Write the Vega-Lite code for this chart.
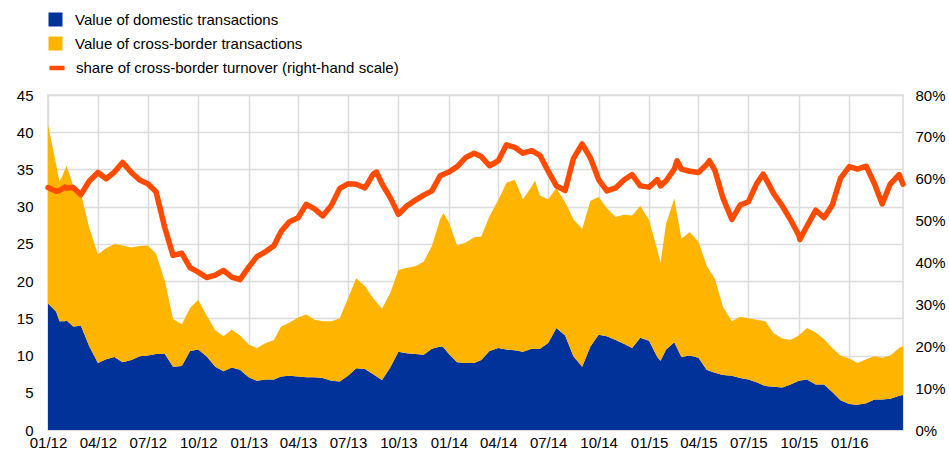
{
  "$schema": "https://vega.github.io/schema/vega-lite/v6.json",
  "width": 855,
  "height": 335,
  "autosize": {"type": "none"},
  "padding": {"left": 48, "top": 95, "right": 46, "bottom": 27},
  "background": "white",
  "config": {
    "font": "Liberation Sans",
    "view": {"stroke": "#dcdcdc", "strokeWidth": 1.5},
    "axis": {"labelFont": "Liberation Sans", "labelFontSize": 15, "labelColor": "#000", "domain": false, "ticks": false, "gridColor": "#dcdcdc", "gridWidth": 1.5, "labelFlush": false, "labelOverlap": false, "labelBound": false},
    "legend": {"labelFont": "Liberation Sans", "labelFontSize": 15, "labelColor": "#000", "labelLimit": 0, "padding": 0, "rowPadding": 8, "labelOffset": 12, "orient": "none", "direction": "vertical", "title": null}
  },
  "datasets": {
    "volumes": [
      {"date": "2012-01-01", "domestic": 17.0, "crossborder": 24.0},
      {"date": "2012-01-16", "domestic": 15.9, "crossborder": 19.7},
      {"date": "2012-01-22", "domestic": 14.6, "crossborder": 18.7},
      {"date": "2012-02-01", "domestic": 14.6, "crossborder": 20.4},
      {"date": "2012-02-04", "domestic": 14.7, "crossborder": 20.8},
      {"date": "2012-02-16", "domestic": 13.9, "crossborder": 18.9},
      {"date": "2012-03-01", "domestic": 14.0, "crossborder": 17.8},
      {"date": "2012-03-16", "domestic": 11.3, "crossborder": 15.9},
      {"date": "2012-04-01", "domestic": 9.0, "crossborder": 14.6},
      {"date": "2012-04-16", "domestic": 9.5, "crossborder": 14.9},
      {"date": "2012-05-01", "domestic": 9.8, "crossborder": 15.2},
      {"date": "2012-05-16", "domestic": 9.1, "crossborder": 15.7},
      {"date": "2012-06-01", "domestic": 9.4, "crossborder": 15.1},
      {"date": "2012-06-16", "domestic": 9.9, "crossborder": 14.8},
      {"date": "2012-07-01", "domestic": 10.0, "crossborder": 14.8},
      {"date": "2012-07-16", "domestic": 10.2, "crossborder": 13.5},
      {"date": "2012-08-01", "domestic": 10.2, "crossborder": 9.8},
      {"date": "2012-08-16", "domestic": 8.5, "crossborder": 6.4},
      {"date": "2012-09-01", "domestic": 8.6, "crossborder": 5.6},
      {"date": "2012-09-16", "domestic": 10.6, "crossborder": 5.8},
      {"date": "2012-10-01", "domestic": 10.8, "crossborder": 6.7},
      {"date": "2012-10-16", "domestic": 9.9, "crossborder": 5.5},
      {"date": "2012-11-01", "domestic": 8.5, "crossborder": 4.9},
      {"date": "2012-11-16", "domestic": 7.9, "crossborder": 4.7},
      {"date": "2012-12-01", "domestic": 8.4, "crossborder": 5.1},
      {"date": "2012-12-16", "domestic": 8.1, "crossborder": 4.6},
      {"date": "2013-01-01", "domestic": 7.1, "crossborder": 4.4},
      {"date": "2013-01-16", "domestic": 6.6, "crossborder": 4.4},
      {"date": "2013-02-01", "domestic": 6.8, "crossborder": 4.9},
      {"date": "2013-02-16", "domestic": 6.8, "crossborder": 5.3},
      {"date": "2013-03-01", "domestic": 7.2, "crossborder": 6.7},
      {"date": "2013-03-16", "domestic": 7.3, "crossborder": 7.1},
      {"date": "2013-04-01", "domestic": 7.2, "crossborder": 7.9},
      {"date": "2013-04-16", "domestic": 7.1, "crossborder": 8.4},
      {"date": "2013-05-01", "domestic": 7.1, "crossborder": 7.7},
      {"date": "2013-05-16", "domestic": 7.0, "crossborder": 7.6},
      {"date": "2013-06-01", "domestic": 6.6, "crossborder": 8.0},
      {"date": "2013-06-16", "domestic": 6.5, "crossborder": 8.5},
      {"date": "2013-07-01", "domestic": 7.3, "crossborder": 10.4},
      {"date": "2013-07-16", "domestic": 8.3, "crossborder": 12.1},
      {"date": "2013-08-01", "domestic": 8.2, "crossborder": 11.1},
      {"date": "2013-08-16", "domestic": 7.5, "crossborder": 10.2},
      {"date": "2013-09-01", "domestic": 6.7, "crossborder": 9.6},
      {"date": "2013-09-16", "domestic": 8.4, "crossborder": 10.0},
      {"date": "2013-10-01", "domestic": 10.5, "crossborder": 11.0},
      {"date": "2013-10-16", "domestic": 10.3, "crossborder": 11.5},
      {"date": "2013-11-01", "domestic": 10.2, "crossborder": 11.8},
      {"date": "2013-11-16", "domestic": 10.1, "crossborder": 12.5},
      {"date": "2013-12-01", "domestic": 10.9, "crossborder": 13.8},
      {"date": "2013-12-16", "domestic": 11.2, "crossborder": 17.1},
      {"date": "2013-12-22", "domestic": 11.1, "crossborder": 18.0},
      {"date": "2014-01-01", "domestic": 10.2, "crossborder": 17.7},
      {"date": "2014-01-16", "domestic": 9.1, "crossborder": 15.7},
      {"date": "2014-02-01", "domestic": 9.0, "crossborder": 16.2},
      {"date": "2014-02-16", "domestic": 9.0, "crossborder": 16.9},
      {"date": "2014-03-01", "domestic": 9.4, "crossborder": 16.6},
      {"date": "2014-03-16", "domestic": 10.6, "crossborder": 18.1},
      {"date": "2014-04-01", "domestic": 11.0, "crossborder": 19.9},
      {"date": "2014-04-16", "domestic": 10.8, "crossborder": 22.4},
      {"date": "2014-05-01", "domestic": 10.7, "crossborder": 22.9},
      {"date": "2014-05-16", "domestic": 10.5, "crossborder": 20.5},
      {"date": "2014-06-01", "domestic": 10.9, "crossborder": 21.8},
      {"date": "2014-06-07", "domestic": 10.9, "crossborder": 22.6},
      {"date": "2014-06-16", "domestic": 10.9, "crossborder": 20.6},
      {"date": "2014-07-01", "domestic": 11.7, "crossborder": 19.3},
      {"date": "2014-07-16", "domestic": 13.7, "crossborder": 18.8},
      {"date": "2014-08-01", "domestic": 12.7, "crossborder": 17.9},
      {"date": "2014-08-16", "domestic": 9.9, "crossborder": 18.4},
      {"date": "2014-09-01", "domestic": 8.5, "crossborder": 18.5},
      {"date": "2014-09-16", "domestic": 11.2, "crossborder": 19.6},
      {"date": "2014-10-01", "domestic": 12.8, "crossborder": 18.5},
      {"date": "2014-10-16", "domestic": 12.6, "crossborder": 17.2},
      {"date": "2014-11-01", "domestic": 12.1, "crossborder": 16.5},
      {"date": "2014-11-16", "domestic": 11.6, "crossborder": 17.3},
      {"date": "2014-12-01", "domestic": 11.0, "crossborder": 17.8},
      {"date": "2014-12-16", "domestic": 12.4, "crossborder": 17.7},
      {"date": "2015-01-01", "domestic": 12.0, "crossborder": 16.2},
      {"date": "2015-01-16", "domestic": 9.8, "crossborder": 14.4},
      {"date": "2015-01-22", "domestic": 9.3, "crossborder": 13.2},
      {"date": "2015-02-01", "domestic": 10.8, "crossborder": 16.9},
      {"date": "2015-02-16", "domestic": 11.8, "crossborder": 19.3},
      {"date": "2015-03-01", "domestic": 9.8, "crossborder": 15.9},
      {"date": "2015-03-16", "domestic": 10.0, "crossborder": 16.6},
      {"date": "2015-04-01", "domestic": 9.7, "crossborder": 15.6},
      {"date": "2015-04-16", "domestic": 8.1, "crossborder": 14.0},
      {"date": "2015-05-01", "domestic": 7.7, "crossborder": 12.6},
      {"date": "2015-05-16", "domestic": 7.4, "crossborder": 9.1},
      {"date": "2015-06-01", "domestic": 7.3, "crossborder": 7.3},
      {"date": "2015-06-16", "domestic": 7.0, "crossborder": 8.2},
      {"date": "2015-07-01", "domestic": 6.8, "crossborder": 8.2},
      {"date": "2015-07-16", "domestic": 6.4, "crossborder": 8.4},
      {"date": "2015-08-01", "domestic": 5.9, "crossborder": 8.7},
      {"date": "2015-08-16", "domestic": 5.8, "crossborder": 7.2},
      {"date": "2015-09-01", "domestic": 5.7, "crossborder": 6.6},
      {"date": "2015-09-16", "domestic": 6.1, "crossborder": 6.0},
      {"date": "2015-10-01", "domestic": 6.6, "crossborder": 6.1},
      {"date": "2015-10-16", "domestic": 6.8, "crossborder": 6.9},
      {"date": "2015-11-01", "domestic": 6.1, "crossborder": 7.0},
      {"date": "2015-11-16", "domestic": 6.1, "crossborder": 6.1},
      {"date": "2015-12-01", "domestic": 5.1, "crossborder": 5.9},
      {"date": "2015-12-16", "domestic": 4.0, "crossborder": 6.0},
      {"date": "2016-01-01", "domestic": 3.5, "crossborder": 6.1},
      {"date": "2016-01-16", "domestic": 3.4, "crossborder": 5.6},
      {"date": "2016-02-01", "domestic": 3.6, "crossborder": 5.9},
      {"date": "2016-02-16", "domestic": 4.1, "crossborder": 5.8},
      {"date": "2016-03-01", "domestic": 4.1, "crossborder": 5.6},
      {"date": "2016-03-16", "domestic": 4.2, "crossborder": 5.8},
      {"date": "2016-04-01", "domestic": 4.6, "crossborder": 6.4},
      {"date": "2016-04-08", "domestic": 4.7, "crossborder": 6.6}
    ],
    "share": [
      {"date": "2012-01-01", "share": 0.579},
      {"date": "2012-01-16", "share": 0.570},
      {"date": "2012-01-22", "share": 0.572},
      {"date": "2012-02-01", "share": 0.580},
      {"date": "2012-02-04", "share": 0.578},
      {"date": "2012-02-16", "share": 0.579},
      {"date": "2012-03-01", "share": 0.562},
      {"date": "2012-03-16", "share": 0.594},
      {"date": "2012-04-01", "share": 0.615},
      {"date": "2012-04-16", "share": 0.600},
      {"date": "2012-05-01", "share": 0.616},
      {"date": "2012-05-16", "share": 0.639},
      {"date": "2012-06-01", "share": 0.615},
      {"date": "2012-06-16", "share": 0.597},
      {"date": "2012-07-01", "share": 0.588},
      {"date": "2012-07-16", "share": 0.569},
      {"date": "2012-08-01", "share": 0.483},
      {"date": "2012-08-16", "share": 0.417},
      {"date": "2012-09-01", "share": 0.422},
      {"date": "2012-09-16", "share": 0.388},
      {"date": "2012-10-01", "share": 0.377},
      {"date": "2012-10-16", "share": 0.364},
      {"date": "2012-11-01", "share": 0.370},
      {"date": "2012-11-16", "share": 0.381},
      {"date": "2012-12-01", "share": 0.365},
      {"date": "2012-12-16", "share": 0.359},
      {"date": "2013-01-01", "share": 0.389},
      {"date": "2013-01-16", "share": 0.414},
      {"date": "2013-02-01", "share": 0.426},
      {"date": "2013-02-16", "share": 0.440},
      {"date": "2013-03-01", "share": 0.474},
      {"date": "2013-03-16", "share": 0.497},
      {"date": "2013-04-01", "share": 0.507},
      {"date": "2013-04-16", "share": 0.539},
      {"date": "2013-05-01", "share": 0.528},
      {"date": "2013-05-16", "share": 0.511},
      {"date": "2013-06-01", "share": 0.537},
      {"date": "2013-06-16", "share": 0.577},
      {"date": "2013-07-01", "share": 0.588},
      {"date": "2013-07-16", "share": 0.587},
      {"date": "2013-08-01", "share": 0.578},
      {"date": "2013-08-16", "share": 0.611},
      {"date": "2013-08-22", "share": 0.616},
      {"date": "2013-09-01", "share": 0.588},
      {"date": "2013-09-16", "share": 0.555},
      {"date": "2013-10-01", "share": 0.515},
      {"date": "2013-10-16", "share": 0.535},
      {"date": "2013-11-01", "share": 0.549},
      {"date": "2013-11-16", "share": 0.561},
      {"date": "2013-12-01", "share": 0.571},
      {"date": "2013-12-16", "share": 0.607},
      {"date": "2014-01-01", "share": 0.616},
      {"date": "2014-01-16", "share": 0.629},
      {"date": "2014-02-01", "share": 0.651},
      {"date": "2014-02-16", "share": 0.661},
      {"date": "2014-03-01", "share": 0.653},
      {"date": "2014-03-16", "share": 0.631},
      {"date": "2014-04-01", "share": 0.643},
      {"date": "2014-04-16", "share": 0.681},
      {"date": "2014-05-01", "share": 0.675},
      {"date": "2014-05-16", "share": 0.661},
      {"date": "2014-06-01", "share": 0.667},
      {"date": "2014-06-16", "share": 0.656},
      {"date": "2014-07-01", "share": 0.618},
      {"date": "2014-07-16", "share": 0.583},
      {"date": "2014-08-01", "share": 0.572},
      {"date": "2014-08-16", "share": 0.648},
      {"date": "2014-09-01", "share": 0.683},
      {"date": "2014-09-16", "share": 0.650},
      {"date": "2014-10-01", "share": 0.598},
      {"date": "2014-10-16", "share": 0.571},
      {"date": "2014-11-01", "share": 0.578},
      {"date": "2014-11-16", "share": 0.597},
      {"date": "2014-12-01", "share": 0.610},
      {"date": "2014-12-16", "share": 0.583},
      {"date": "2015-01-01", "share": 0.580},
      {"date": "2015-01-16", "share": 0.598},
      {"date": "2015-01-22", "share": 0.583},
      {"date": "2015-02-01", "share": 0.595},
      {"date": "2015-02-16", "share": 0.623},
      {"date": "2015-02-21", "share": 0.643},
      {"date": "2015-03-01", "share": 0.623},
      {"date": "2015-03-16", "share": 0.618},
      {"date": "2015-04-01", "share": 0.615},
      {"date": "2015-04-16", "share": 0.634},
      {"date": "2015-04-21", "share": 0.643},
      {"date": "2015-05-01", "share": 0.620},
      {"date": "2015-05-16", "share": 0.553},
      {"date": "2015-06-01", "share": 0.503},
      {"date": "2015-06-16", "share": 0.537},
      {"date": "2015-07-01", "share": 0.545},
      {"date": "2015-07-16", "share": 0.588},
      {"date": "2015-07-28", "share": 0.611},
      {"date": "2015-08-01", "share": 0.602},
      {"date": "2015-08-16", "share": 0.565},
      {"date": "2015-09-01", "share": 0.535},
      {"date": "2015-09-16", "share": 0.502},
      {"date": "2015-10-01", "share": 0.465},
      {"date": "2015-10-03", "share": 0.455},
      {"date": "2015-10-16", "share": 0.487},
      {"date": "2015-11-01", "share": 0.525},
      {"date": "2015-11-16", "share": 0.507},
      {"date": "2015-12-01", "share": 0.537},
      {"date": "2015-12-16", "share": 0.601},
      {"date": "2016-01-01", "share": 0.629},
      {"date": "2016-01-16", "share": 0.623},
      {"date": "2016-02-01", "share": 0.630},
      {"date": "2016-02-16", "share": 0.588},
      {"date": "2016-03-01", "share": 0.540},
      {"date": "2016-03-16", "share": 0.588},
      {"date": "2016-04-01", "share": 0.610},
      {"date": "2016-04-08", "share": 0.587}
    ]
  },
  "layer": [
    {
      "data": {"name": "volumes"},
      "transform": [{"fold": ["domestic", "crossborder"], "as": ["series", "value"]}],
      "mark": {"type": "area", "opacity": 1, "interpolate": "linear"},
      "encoding": {
        "x": {
          "field": "date", "type": "temporal",
          "scale": {"type": "utc", "domain": [{"year": 2012, "month": 1, "date": 1, "utc": true}, {"year": 2016, "month": 4, "date": 8, "utc": true}]},
          "axis": {
            "title": null, "format": "%m/%y", "labelPadding": 5, "grid": true,
            "values": [
              {"year": 2012, "month": 1, "date": 1, "utc": true}, {"year": 2012, "month": 4, "date": 1, "utc": true}, {"year": 2012, "month": 7, "date": 1, "utc": true}, {"year": 2012, "month": 10, "date": 1, "utc": true},
              {"year": 2013, "month": 1, "date": 1, "utc": true}, {"year": 2013, "month": 4, "date": 1, "utc": true}, {"year": 2013, "month": 7, "date": 1, "utc": true}, {"year": 2013, "month": 10, "date": 1, "utc": true},
              {"year": 2014, "month": 1, "date": 1, "utc": true}, {"year": 2014, "month": 4, "date": 1, "utc": true}, {"year": 2014, "month": 7, "date": 1, "utc": true}, {"year": 2014, "month": 10, "date": 1, "utc": true},
              {"year": 2015, "month": 1, "date": 1, "utc": true}, {"year": 2015, "month": 4, "date": 1, "utc": true}, {"year": 2015, "month": 7, "date": 1, "utc": true}, {"year": 2015, "month": 10, "date": 1, "utc": true},
              {"year": 2016, "month": 1, "date": 1, "utc": true}
            ]
          }
        },
        "y": {
          "field": "value", "type": "quantitative", "stack": "zero",
          "scale": {"domain": [0, 45]},
          "axis": {"title": null, "values": [0, 5, 10, 15, 20, 25, 30, 35, 40, 45], "labelPadding": 15, "grid": true}
        },
        "order": {"field": "series", "sort": "descending"},
        "color": {
          "field": "series", "type": "nominal",
          "scale": {"domain": ["domestic", "crossborder"], "range": ["#003299", "#FFB400"]},
          "legend": {
            "legendX": 0, "legendY": -83,
            "symbolType": "square", "symbolSize": 196, "symbolStrokeWidth": 0, "symbolOpacity": 1,
            "labelExpr": "datum.value == 'domestic' ? 'Value of domestic transactions' : 'Value of cross-border transactions'"
          }
        }
      }
    },
    {
      "data": {"name": "share"},
      "mark": {"type": "line", "strokeWidth": 5.5, "strokeJoin": "round", "strokeCap": "round"},
      "encoding": {
        "x": {"field": "date", "type": "temporal"},
        "y": {
          "field": "share", "type": "quantitative",
          "scale": {"domain": [0, 0.8]},
          "axis": {"title": null, "orient": "right", "values": [0, 0.1, 0.2, 0.3, 0.4, 0.5, 0.6, 0.7, 0.8], "format": ".0%", "labelPadding": 12, "grid": false}
        },
        "stroke": {
          "datum": "share", "type": "nominal",
          "scale": {"domain": ["share"], "range": ["#FF4B00"]},
          "legend": {
            "legendX": -1, "legendY": -37,
            "symbolType": "stroke", "symbolSize": 225, "symbolStrokeWidth": 4.5, "labelOffset": 9,
            "labelExpr": "'share of cross-border turnover (right-hand scale)'"
          }
        }
      }
    }
  ],
  "resolve": {"scale": {"y": "independent"}}
}
